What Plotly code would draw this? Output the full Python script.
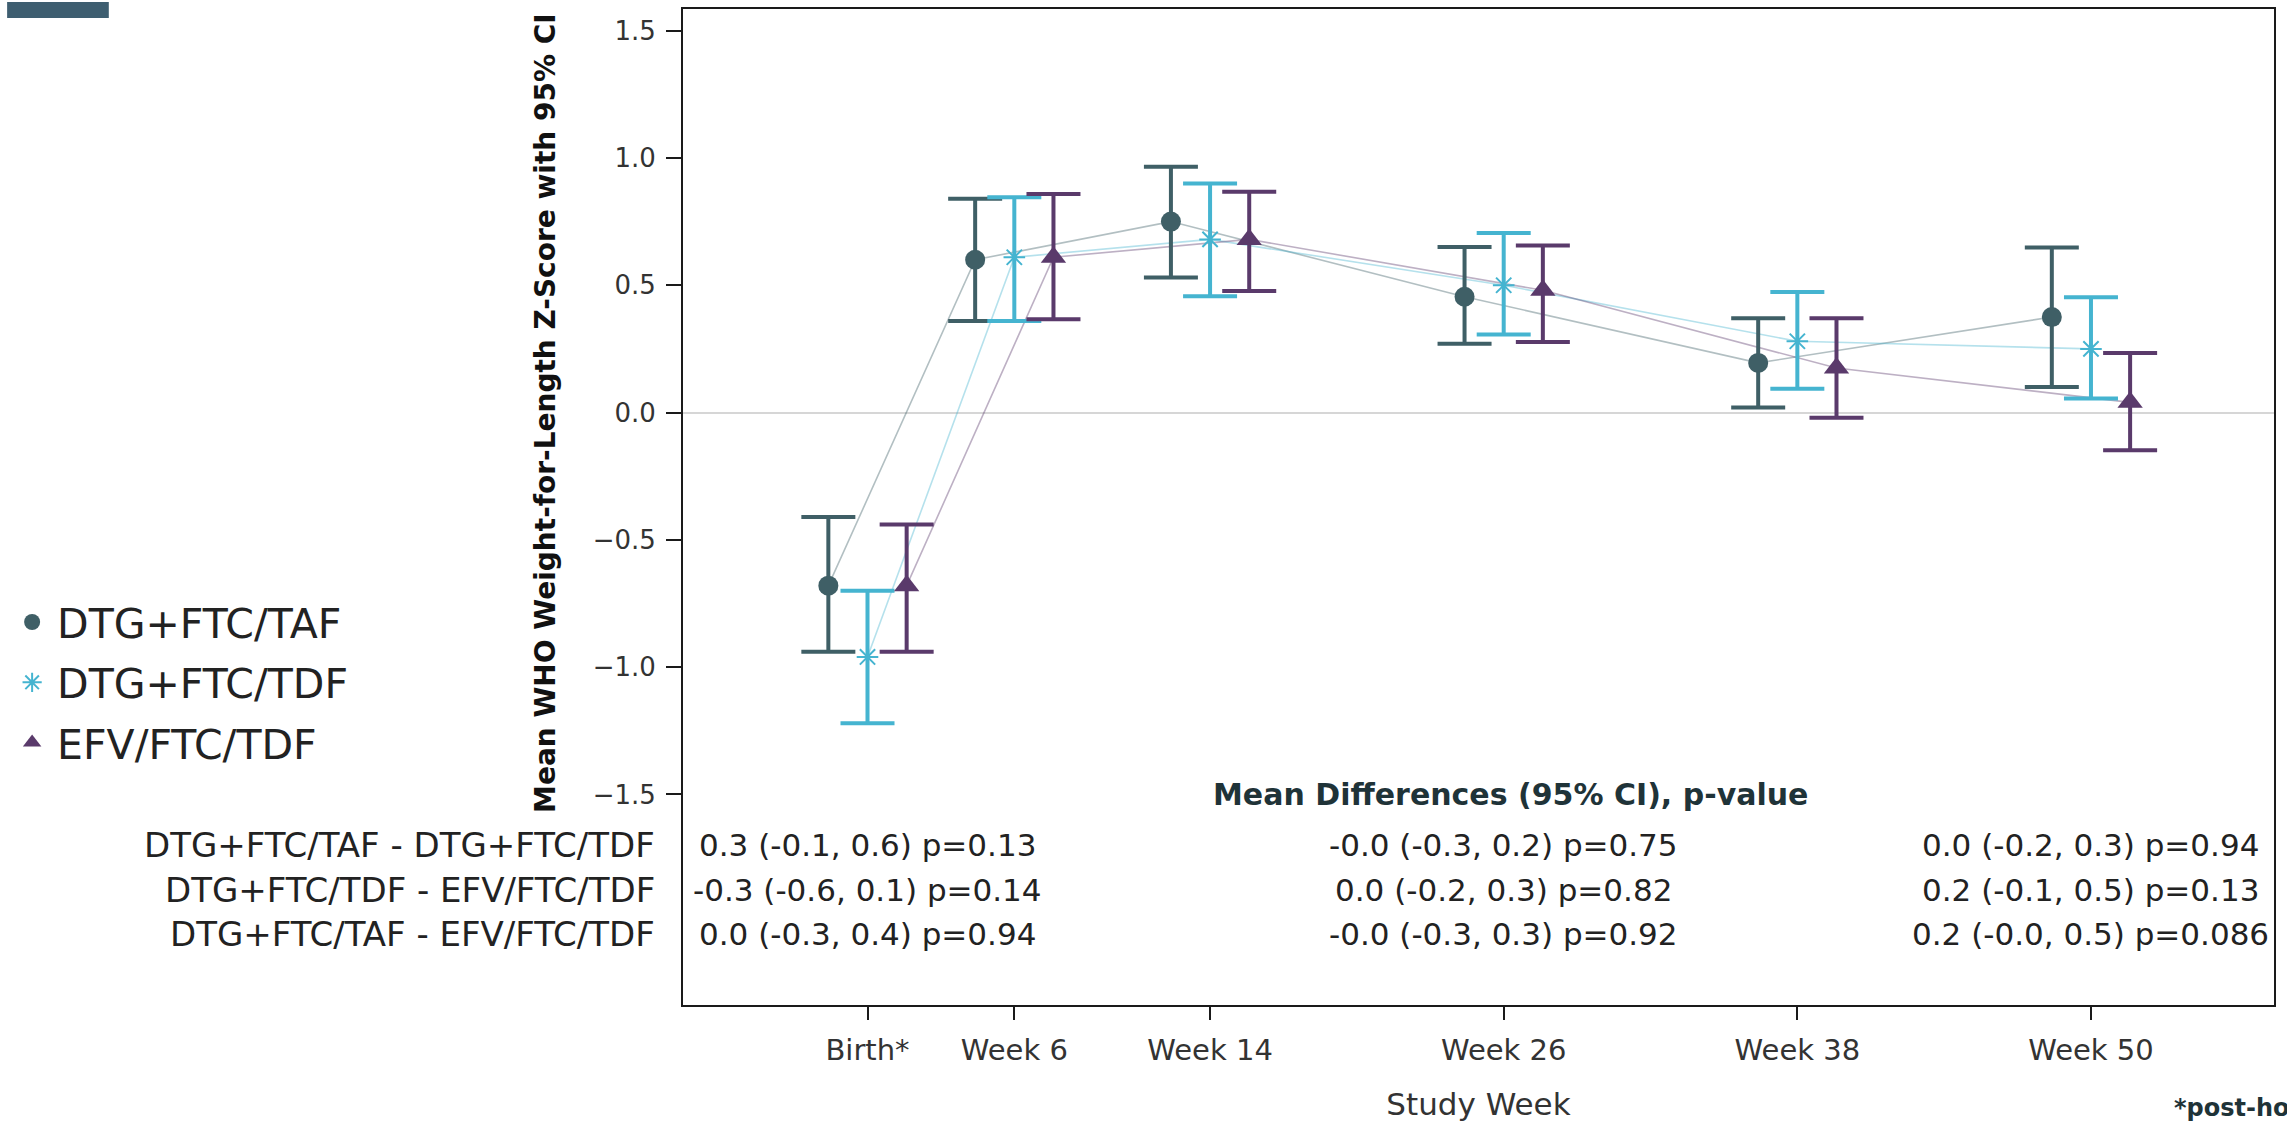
import numpy as np
import plotly.graph_objects as go

# ---------------- data ----------------
weeks = [0, 6, 14, 26, 38, 50]
tick_labels = ["Birth*", "Week 6", "Week 14", "Week 26", "Week 38", "Week 50"]

series_names = ["DTG+FTC/TAF", "DTG+FTC/TDF", "EFV/FTC/TDF"]

taf_mean = [-0.68, 0.60, 0.75, 0.455, 0.195, 0.375]
taf_lo = [-0.94, 0.36, 0.53, 0.27, 0.02, 0.10]
taf_hi = [-0.41, 0.84, 0.965, 0.65, 0.37, 0.648]

tdf_mean = [-0.96, 0.61, 0.68, 0.50, 0.28, 0.25]
tdf_lo = [-1.22, 0.36, 0.457, 0.307, 0.093, 0.055]
tdf_hi = [-0.70, 0.846, 0.90, 0.705, 0.473, 0.453]

efv_mean = [-0.68, 0.61, 0.68, 0.48, 0.175, 0.04]
efv_lo = [-0.94, 0.366, 0.477, 0.277, -0.02, -0.148]
efv_hi = [-0.44, 0.858, 0.867, 0.656, 0.37, 0.234]

comparisons = ["DTG+FTC/TAF - DTG+FTC/TDF",
               "DTG+FTC/TDF - EFV/FTC/TDF",
               "DTG+FTC/TAF - EFV/FTC/TDF"]
table_weeks = [0, 26, 50]
diff_birth = ["0.3 (-0.1, 0.6) p=0.13", "-0.3 (-0.6, 0.1) p=0.14", "0.0 (-0.3, 0.4) p=0.94"]
diff_w26 = ["-0.0 (-0.3, 0.2) p=0.75", "0.0 (-0.2, 0.3) p=0.82", "-0.0 (-0.3, 0.3) p=0.92"]
diff_w50 = ["0.0 (-0.2, 0.3) p=0.94", "0.2 (-0.1, 0.5) p=0.13", "0.2 (-0.0, 0.5) p=0.086"]

# ---------------- styling ----------------
FIG_W, FIG_H = 2287, 1126
ML, MR, MT, MB = 678, 13, 7, 121
PW, PH = FIG_W - ML - MR, FIG_H - MT - MB


def px_x(p):
    return (p - ML) / PW


def px_y(p):
    return (FIG_H - MB - p) / PH


FONT = "DejaVu Sans"
colors = ["#3f5f66", "#45b4d0", "#5a3a6b"]
line_colors = ["rgba(63,95,102,0.40)", "rgba(69,180,208,0.40)", "rgba(90,58,107,0.40)"]
symbols = ["circle", "asterisk-open", "triangle-up"]
sizes = [20, 18, 22]
offsets = [-1.6, 0.0, 1.6]

means = [taf_mean, tdf_mean, efv_mean]
los = [taf_lo, tdf_lo, efv_lo]
his = [taf_hi, tdf_hi, efv_hi]

fig = go.Figure()

# connecting lines (drawn first, underneath)
for i in range(3):
    xs = np.array(weeks, dtype=float) + offsets[i]
    fig.add_trace(go.Scatter(
        x=xs, y=means[i], mode="lines",
        line=dict(color=line_colors[i], width=1.6),
        showlegend=False, hoverinfo="skip"))

# error bars + markers
for i in range(3):
    xs = np.array(weeks, dtype=float) + offsets[i]
    m = np.array(means[i])
    lo = np.array(los[i])
    hi = np.array(his[i])
    marker = dict(symbol=symbols[i], size=sizes[i], color=colors[i])
    if symbols[i].endswith("open"):
        marker["line"] = dict(color=colors[i], width=2)
    fig.add_trace(go.Scatter(
        x=xs, y=m, mode="markers", name=series_names[i],
        marker=marker,
        error_y=dict(type="data", symmetric=False, array=hi - m, arrayminus=m - lo,
                     color=colors[i], thickness=4, width=27),
        showlegend=True, legendgroup=series_names[i]))

# ---------------- table annotations ----------------
row_y = [-1.70, -1.875, -2.047]
annotations = []
for r, label in enumerate(comparisons):
    annotations.append(dict(
        x=px_x(652), xref="paper", y=row_y[r], yref="y", text=label,
        showarrow=False, xanchor="right", yanchor="middle",
        font=dict(family=FONT, size=34, color="#222222")))
for col, vals in zip(table_weeks, [diff_birth, diff_w26, diff_w50]):
    for r, v in enumerate(vals):
        annotations.append(dict(
            x=col, xref="x", y=row_y[r], yref="y", text=v,
            showarrow=False, xanchor="center", yanchor="middle",
            font=dict(family=FONT, size=31, color="#222222")))

annotations.append(dict(
    x=px_x(1508), xref="paper", y=-1.50, yref="y",
    text="<b>Mean Differences (95% CI), p-value</b>",
    showarrow=False, xanchor="center", yanchor="middle",
    font=dict(family=FONT, size=30, color="#1f3338")))

# y-axis title (centered on the -1.5..1.5 region)
annotations.append(dict(
    x=px_x(540), xref="paper", y=0, yref="y",
    text="<b>Mean WHO Weight-for-Length Z-Score with 95% CI</b>",
    textangle=-90, showarrow=False, xanchor="center", yanchor="middle",
    font=dict(family=FONT, size=28, color="#111111")))

# footnote (clipped at the right edge in the original)
annotations.append(dict(
    x=px_x(2172), xref="paper", y=px_y(1108), yref="paper",
    text="<b>*post-hoc analysis</b>", showarrow=False,
    xanchor="left", yanchor="middle",
    font=dict(family=FONT, size=24, color="#1f3338")))

shapes = [dict(
    type="rect", xref="paper", yref="paper",
    x0=px_x(0), x1=px_x(102), y0=px_y(16), y1=px_y(0),
    fillcolor="#3e5e70", line=dict(width=0), layer="above")]

fig.update_layout(
    width=FIG_W, height=FIG_H,
    margin=dict(l=ML, r=MR, t=MT, b=MB, pad=0),
    paper_bgcolor="white", plot_bgcolor="white",
    font=dict(family=FONT, color="#222222"),
    annotations=annotations, shapes=shapes,
    legend=dict(
        x=px_x(0), xanchor="left", y=px_y(588), yanchor="top",
        font=dict(family=FONT, size=41, color="#222222"),
        bgcolor="rgba(0,0,0,0)", itemwidth=40, tracegroupgap=4),
    showlegend=True,
)

fig.update_xaxes(
    range=[-7.54, 57.48], tickmode="array", tickvals=weeks, ticktext=tick_labels,
    showgrid=False, zeroline=False,
    showline=True, mirror=True, linecolor="#1a1a1a", linewidth=2,
    ticks="outside", ticklen=13, tickwidth=1.5, tickcolor="#1a1a1a",
    ticklabelstandoff=5,
    tickfont=dict(family=FONT, size=29, color="#333333"),
    title=dict(text="Study Week", font=dict(family=FONT, size=31, color="#333333"), standoff=28))

fig.update_yaxes(
    range=[-2.327, 1.585], tickmode="array",
    tickvals=[-1.5, -1.0, -0.5, 0.0, 0.5, 1.0, 1.5], tickformat=".1f",
    showgrid=False, zeroline=True, zerolinecolor="#d6d6d6", zerolinewidth=1.5,
    showline=True, mirror=True, linecolor="#1a1a1a", linewidth=2,
    ticks="outside", ticklen=15, tickwidth=1.5, tickcolor="#1a1a1a",
    ticklabelstandoff=5,
    tickfont=dict(family=FONT, size=26, color="#333333"))

fig.write_html("out.html",
               config={"displayModeBar": False},
               post_script="document.body.style.margin='0';document.body.style.overflow='hidden';")
